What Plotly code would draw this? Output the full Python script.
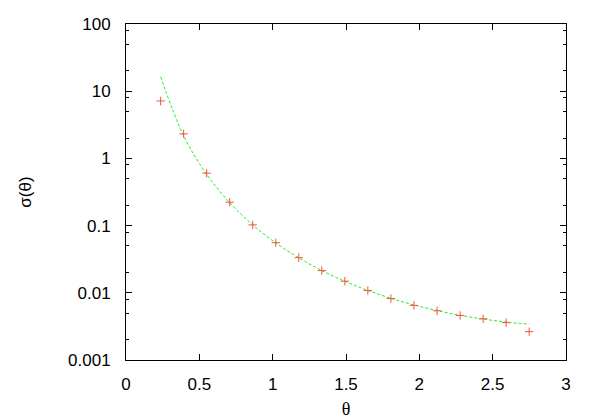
import plotly.graph_objects as go

# measured data points (red crosses)
theta_data = [0.236, 0.393, 0.550, 0.707, 0.864, 1.021, 1.178, 1.335, 1.492,
              1.649, 1.806, 1.963, 2.121, 2.278, 2.435, 2.592, 2.749]
sigma_data = [7.15, 2.32, 0.604, 0.223, 0.1025, 0.0556, 0.0333, 0.0214, 0.0149,
              0.0108, 0.0082, 0.0065, 0.0054, 0.0046, 0.0041, 0.0036, 0.00264]

# fitted curve (green dashed)
theta_fit = [0.236, 0.393, 0.550, 0.707, 0.864, 1.021, 1.178, 1.335, 1.492,
             1.649, 1.806, 1.963, 2.121, 2.278, 2.435, 2.592, 2.749]
sigma_fit = [16.4, 2.17, 0.579, 0.2195, 0.1025, 0.0553, 0.0331, 0.02144, 0.01484,
             0.01084, 0.00828, 0.00659, 0.00544, 0.00463, 0.00407, 0.00367, 0.00340]

x_ticks = [0, 0.5, 1, 1.5, 2, 2.5, 3]
x_tick_labels = ["0", "0.5", "1", "1.5", "2", "2.5", "3"]
y_ticks = [0.001, 0.01, 0.1, 1, 10, 100]
y_tick_labels = ["0.001", "0.01", "0.1", "1", "10", "100"]
y_minor = [m * 10 ** e for e in range(-3, 2) for m in (2, 5, 8)]

fig = go.Figure()
fig.add_trace(go.Scatter(
    x=theta_fit, y=sigma_fit, mode="lines", line_shape="spline",
    line=dict(color="#22ee22", width=1, dash="3px,2px"),
    showlegend=False, hoverinfo="skip"))
fig.add_trace(go.Scatter(
    x=theta_data, y=sigma_data, mode="markers",
    marker=dict(symbol="cross-thin-open", size=6,
                line=dict(color="#ff0000", width=1)),
    showlegend=False))

font = dict(family="Liberation Sans, Arial, sans-serif", size=17, color="black")

fig.update_layout(
    width=600, height=420,
    margin=dict(l=118, r=42, t=16, b=68, autoexpand=False),
    paper_bgcolor="white", plot_bgcolor="white",
    font=font,
    xaxis=dict(
        range=[0, 3], tickvals=x_ticks, ticktext=x_tick_labels,
        ticks="inside", ticklen=6, tickcolor="black", tickwidth=1,
        showline=True, linecolor="black", linewidth=1, mirror="allticks",
        showgrid=False, zeroline=False, ticklabelstandoff=9, automargin=False,
        title=dict(text="θ", font=dict(family="Liberation Serif, serif", size=18), standoff=8),
    ),
    yaxis=dict(
        type="log", range=[-3, 2], tickvals=y_ticks, ticktext=y_tick_labels,
        ticks="inside", ticklen=6, tickcolor="black", tickwidth=1,
        showline=True, linecolor="black", linewidth=1, mirror="allticks",
        showgrid=False, zeroline=False, ticklabelstandoff=11, automargin=False,
        minor=dict(tickvals=y_minor, ticks="inside", ticklen=3,
                   tickcolor="black", tickwidth=1, showgrid=False),
        title=dict(text="σ(θ)", font=dict(family="Liberation Sans, sans-serif", size=17), standoff=32),
    ),
)

fig.write_html("out.html")
